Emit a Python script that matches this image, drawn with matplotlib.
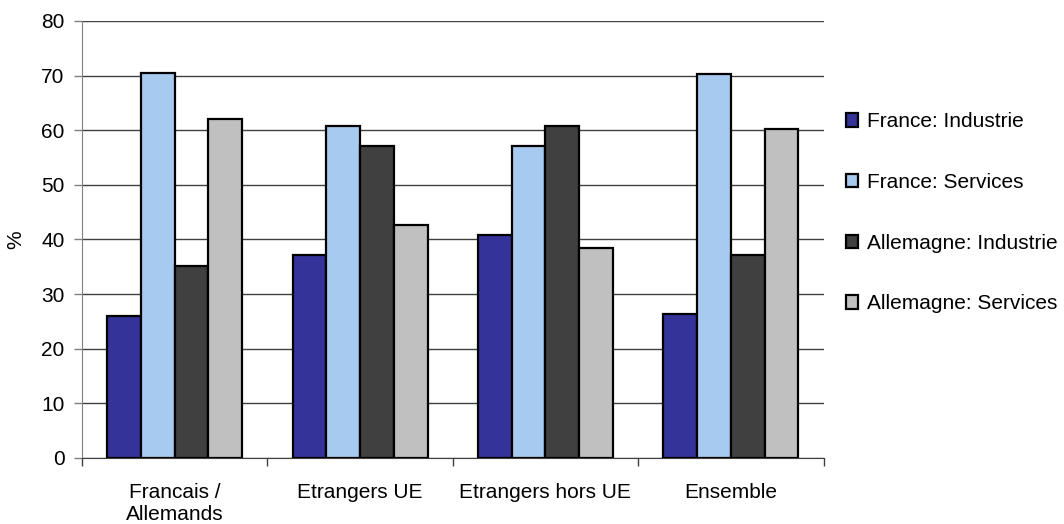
import numpy as np
import matplotlib
matplotlib.use("Agg")
import matplotlib.pyplot as plt

plt.rcParams["font.family"] = ["Liberation Sans", "DejaVu Sans"]

categories = ["Francais /\nAllemands", "Etrangers UE", "Etrangers hors UE", "Ensemble"]
series_names = [
    "France: Industrie",
    "France: Services",
    "Allemagne: Industrie",
    "Allemagne: Services",
]
france_industrie = [26.0, 37.1, 40.8, 26.3]
france_services = [70.5, 60.8, 57.1, 70.2]
allemagne_industrie = [35.2, 57.2, 60.7, 37.1]
allemagne_services = [62.1, 42.6, 38.4, 60.3]

colors = ["#333399", "#a6caf0", "#404040", "#c0c0c0"]
fs = 15

fig = plt.figure(figsize=(10.64, 5.24), dpi=100)
ax = fig.add_axes([0.077, 0.126, 0.697, 0.834])

x = np.arange(len(categories))
width = 0.182
values = [france_industrie, france_services, allemagne_industrie, allemagne_services]
for i, (vals, name, col) in enumerate(zip(values, series_names, colors)):
    ax.bar(x + (i - 1.5) * width, vals, width, color=col, edgecolor="black",
           linewidth=1.6, label=name, zorder=3)

ax.set_xlim(-0.5, len(categories) - 0.5)
ax.set_ylim(0, 80)
ax.set_yticks(range(0, 81, 10))
ax.yaxis.grid(True, color="#404040", linewidth=1, zorder=0)
ax.set_axisbelow(True)

ax.set_xticks(x)
ax.set_xticklabels(categories, fontsize=fs, linespacing=1.2)
ax.tick_params(axis="x", length=0, pad=18)
ax.set_xticks(np.arange(-0.5, len(categories)), minor=True)
ax.tick_params(axis="x", which="minor", length=6, width=1, color="#404040", direction="out")
ax.tick_params(axis="y", labelsize=fs, length=6, width=1, color="#808080", pad=6.5)

for side in ["top", "right"]:
    ax.spines[side].set_visible(False)
ax.spines["left"].set_color("#808080")
ax.spines["bottom"].set_color("#404040")

ax.set_ylabel("%", fontsize=fs)
ax.yaxis.set_label_coords(-0.077, 0.5)

ax.legend(loc="center left", bbox_to_anchor=(0.787, 0.594), bbox_transform=fig.transFigure,
          frameon=False, fontsize=fs, handlelength=0.6, handleheight=0.6,
          handletextpad=0.43, labelspacing=2.0, borderaxespad=0)

fig.savefig("out.png", dpi=100)
